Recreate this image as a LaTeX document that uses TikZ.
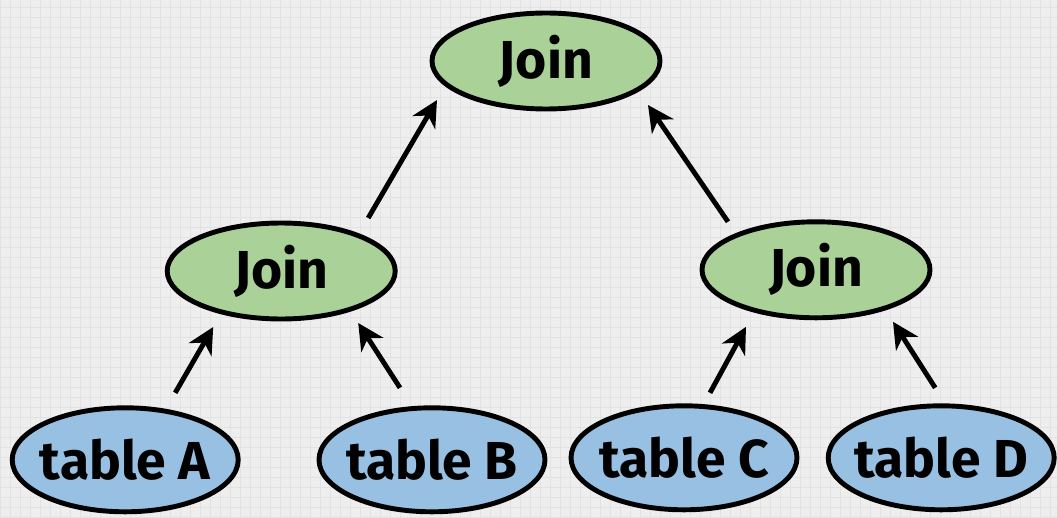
\documentclass[tikz,border=0pt]{standalone}
\usepackage{fontspec}
\setmainfont{Fira Sans}
\usetikzlibrary{arrows.meta,shapes.geometric}
\definecolor{paper}{RGB}{238,238,238}
\definecolor{paperline}{RGB}{226,226,226}
\definecolor{joingreen}{RGB}{170,210,152}
\definecolor{tableblue}{RGB}{152,192,226}
\newcommand\lbl[1]{\makebox[0pt]{#1}}
\tikzset{ebox/.style={
    ellipse,
    draw,
    line width=3.5pt,
    inner sep=0pt,
    font=\fontsize{38}{42}\selectfont\bfseries
  },
  joinbox/.style={ebox,fill=joingreen,minimum width=5.7cm,minimum height=2.4cm},
  tablebox/.style={ebox,fill=tableblue,minimum width=5.65cm,minimum height=2.6cm},
  arr/.style={line width=3.5pt,-{Stealth[length=0.65cm,width=0.65cm,inset=0.2cm]}},
}
\begin{document}
\begin{tikzpicture}
  \fill[paper] (0,0) rectangle (26.425,12.925);
  \useasboundingbox (0,0) rectangle (26.425,12.925);
  \draw[paperline,line width=0.3pt] (0,0) grid[step=0.25] (26.425,12.925);

  \node[joinbox] (top) at (13.65,11.4) {\lbl{Join}};
  \node[joinbox] (ljoin) at (7.03,6.15) {\lbl{Join}};
  \node[joinbox] (rjoin) at (20.4,6.18) {\lbl{Join}};
  \node[tablebox] (ta) at (3.13,1.43) {\lbl{table A}};
  \node[tablebox] (tb) at (10.8,1.43) {\lbl{table B}};
  \node[tablebox] (tc) at (17.1,1.48) {\lbl{table C}};
  \node[tablebox] (td) at (23.53,1.48) {\lbl{table D}};

  \draw[arr] ([shift={(2.175,1.325)}]ljoin.center) -- ([shift={(-2.725,-0.975)}]top.center);
  \draw[arr] ([shift={(-2.2,1.2)}]rjoin.center) -- ([shift={(2.55,-1.1)}]top.center);
  \draw[arr] ([shift={(1.25,1.675)}]ta.center) -- ([shift={(-1.7,-1.4)}]ljoin.center);
  \draw[arr] ([shift={(-0.8,1.8)}]tb.center) -- ([shift={(1.925,-1.3)}]ljoin.center);
  \draw[arr] ([shift={(0.65,1.625)}]tc.center) -- ([shift={(-1.75,-1.425)}]rjoin.center);
  \draw[arr] ([shift={(-0.15,1.75)}]td.center) -- ([shift={(1.925,-1.3)}]rjoin.center);
\end{tikzpicture}
\end{document}
